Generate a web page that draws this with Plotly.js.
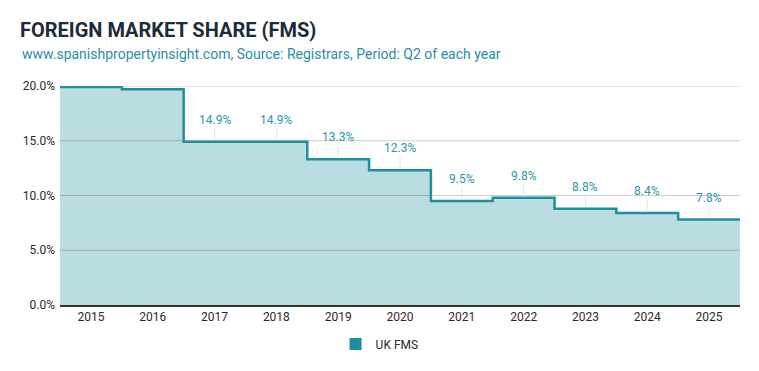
<!DOCTYPE html>
<html>
<head>
<meta charset="utf-8">
<script src="https://cdn.plot.ly/plotly-3.0.1.min.js"></script>
<style>html,body{margin:0;padding:0;background:#fff;}#chart{width:759px;height:371px;}</style>
</head>
<body>
<div id="chart"></div>
<script>
const years = ['2015','2016','2017','2018','2019','2020','2021','2022','2023','2024','2025'];
const ukFms = [19.9, 19.7, 14.9, 14.9, 13.3, 12.3, 9.5, 9.8, 8.8, 8.4, 7.8];
const yTicks = [0, 5, 10, 15, 20];
const seriesName = 'UK FMS';

const LINE = '#1f8e9d';
const FILL = '#badde1';
const n = years.length;
const idx = years.map((_, i) => i);
// step edges: each year occupies [i-0.5, i+0.5]
const sx = idx.map(i => i - 0.5).concat([n - 0.5]);
const sy = ukFms.concat([ukFms[n - 1]]);
const xr = [-0.5, n - 0.5];

const traces = [];
traces.push({type:'scatter', mode:'lines', x:sx, y:sy, line:{shape:'hv', width:0, color:FILL},
  fill:'tozeroy', fillcolor:FILL, showlegend:false, hoverinfo:'skip'});
yTicks.filter(v => v > 0).forEach(v => {
  traces.push({type:'scatter', mode:'lines', x:xr, y:[v, v], line:{color:'rgba(0,0,0,0.2)', width:1},
    showlegend:false, hoverinfo:'skip'});
});
traces.push({type:'scatter', mode:'lines', x:sx, y:sy, line:{shape:'hv', width:2.5, color:LINE},
  showlegend:false, hoverinfo:'skip'});
traces.push({type:'bar', x:[null], y:[null], name:seriesName, marker:{color:'#1b8fa0'}, showlegend:true});

const annotations = [];
ukFms.forEach((v, i) => {
  if (v > 18) return;
  annotations.push({x:i, y:v, xref:'x', yref:'y', text:v.toFixed(1) + '%', showarrow:true,
    ax:0, ay:-22, arrowhead:0, arrowwidth:1, arrowcolor:'#e4e4e4', standoff:2,
    font:{family:'Roboto', size:12, color:'#2a97a6'}});
});
annotations.push({xref:'paper', yref:'paper', x:-0.0588, y:1.146, xanchor:'left', yanchor:'middle',
  showarrow:false, text:'www.spanishpropertyinsight.com, Source: Registrars, Period: Q2 of each year',
  font:{family:'Roboto', size:14, color:'#2a8fa0'}});

const layout = {
  width:759, height:371,
  margin:{l:60, r:19, t:86, b:66},
  paper_bgcolor:'#fff', plot_bgcolor:'#fff',
  title:{text:'<b>FOREIGN MARKET SHARE (FMS)</b>', xref:'container', yref:'container',
    x:20/759, xanchor:'left', y:1 - 30/371, yanchor:'middle',
    font:{family:'Roboto', size:20, color:'#1e2b3a'}},
  xaxis:{range:xr, tickvals:idx, ticktext:years, showgrid:false, zeroline:false,
    showline:true, linecolor:'#333', linewidth:1.5, ticks:'', fixedrange:true,
    tickfont:{family:'Roboto', size:12, color:'#2a2a2a'}},
  yaxis:{range:[0, 20], tickvals:yTicks, ticktext:yTicks.map(v => v.toFixed(1) + '%'),
    showgrid:false, zeroline:false, ticks:'', fixedrange:true, ticklabelstandoff:4,
    tickfont:{family:'Roboto', size:12, color:'#2a2a2a'}},
  showlegend:true,
  legend:{orientation:'h', x:0.47, xanchor:'center', y:-0.178, yanchor:'middle',
    font:{family:'Roboto', size:12, color:'#2a2a2a'}},
  annotations:annotations
};
Plotly.newPlot('chart', traces, layout, {displayModeBar:false, staticPlot:true});
</script>
</body>
</html>
